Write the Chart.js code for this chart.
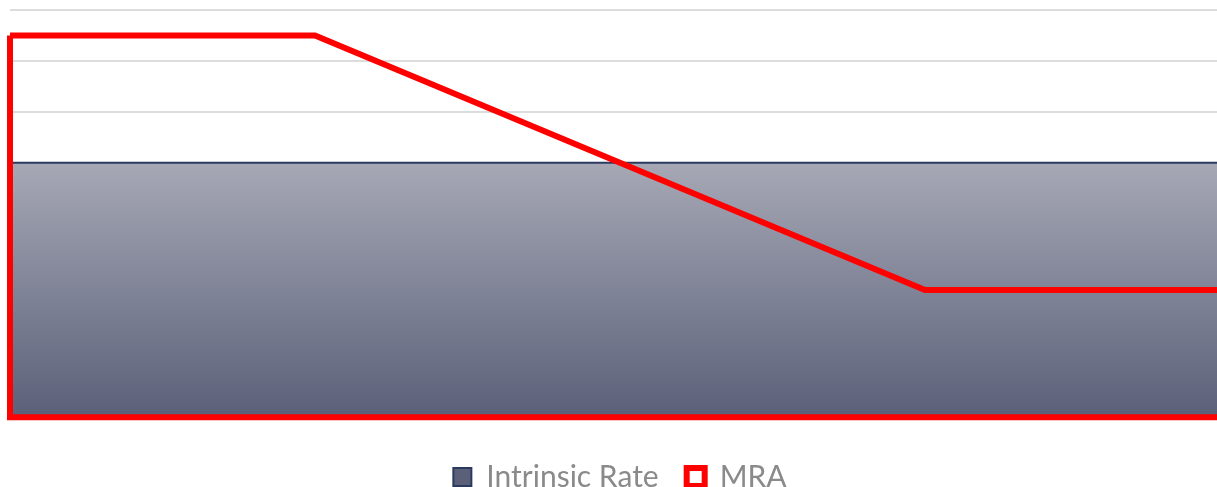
<!DOCTYPE html>
<html>
<head>
<meta charset="utf-8">
<script src="https://cdn.jsdelivr.net/npm/chart.js@4.4.1/dist/chart.umd.min.js"></script>
<style>
  html, body { margin: 0; padding: 0; background: #fff; overflow: hidden; }
  #wrap { width: 1240px; height: 502px; }
</style>
</head>
<body>
<div id="wrap"><canvas id="rateChart"></canvas></div>
<script>
// データ
const labels = ['0', '1', '2', '3', '4'];
const intrinsicRate = [2.5, 2.5, 2.5, 2.5, 2.5];
const mra = [3.75, 3.75, 2.5, 1.25, 1.25];
const yMin = 0;
const yMax = 4;
const yStep = 0.5;

// MRAの面の輪郭（左端・下端・右端）を閉じて描く
const closeOutline = {
    id: 'closeOutline',
    afterDatasetsDraw(chart) {
        const meta = chart.getDatasetMeta(1);
        const pts = meta.data;
        if (!pts.length) return;
        const base = chart.scales.y.getPixelForValue(0);
        const ctx = chart.ctx;
        ctx.save();
        ctx.strokeStyle = '#ff0000';
        ctx.lineWidth = 6;
        ctx.lineJoin = 'miter';
        ctx.beginPath();
        ctx.moveTo(pts[0].x, pts[0].y);
        ctx.lineTo(pts[0].x, base);
        ctx.lineTo(pts[pts.length - 1].x, base);
        ctx.lineTo(pts[pts.length - 1].x, pts[pts.length - 1].y);
        ctx.stroke();
        ctx.restore();
    }
};

function areaGradient(context) {
    const area = context.chart.chartArea;
    if (!area) return '#888ca0';
    const y = context.chart.scales.y;
    const top = y.getPixelForValue(2.5);
    const g = context.chart.ctx.createLinearGradient(0, top, 0, area.bottom);
    g.addColorStop(0, '#a6a8b5');
    g.addColorStop(1, '#5b6079');
    return g;
}

const ctx = document.getElementById('rateChart').getContext('2d');
new Chart(ctx, {
    type: 'line',
    data: {
        labels: labels,
        datasets: [
            {
                label: 'Intrinsic Rate',
                data: intrinsicRate,
                borderColor: '#2c3a60',
                borderWidth: 2,
                backgroundColor: areaGradient,
                fill: 'origin',
                pointRadius: 0,
                tension: 0,
                order: 2
            },
            {
                label: 'MRA',
                data: mra,
                borderColor: '#ff0000',
                borderWidth: 6,
                backgroundColor: '#ffffff',
                fill: false,
                pointRadius: 0,
                tension: 0,
                borderJoinStyle: 'miter',
                order: 1
            }
        ]
    },
    options: {
        responsive: true,
        maintainAspectRatio: false,
        animation: false,
        layout: { padding: { top: 10, left: 10, right: 10, bottom: 0 } },
        plugins: {
            tooltip: { enabled: false },
            legend: {
                position: 'bottom',
                labels: {
                    boxWidth: 18,
                    boxHeight: 18,
                    padding: 28,
                    color: '#8a8a8a',
                    font: { family: 'Lato', size: 30 },
                    sort: (a, b) => a.datasetIndex - b.datasetIndex
                }
            }
        },
        scales: {
            x: {
                offset: false,
                border: { display: false },
                grid: { display: false, drawTicks: false },
                ticks: { color: 'rgba(0,0,0,0)', font: { size: 4 }, padding: 6 }
            },
            y: {
                min: yMin,
                max: yMax,
                ticks: { display: false, stepSize: yStep },
                border: { display: false },
                grid: { color: '#dcdcdc', lineWidth: 2, drawTicks: false }
            }
        }
    },
    plugins: [closeOutline]
});
</script>
</body>
</html>
